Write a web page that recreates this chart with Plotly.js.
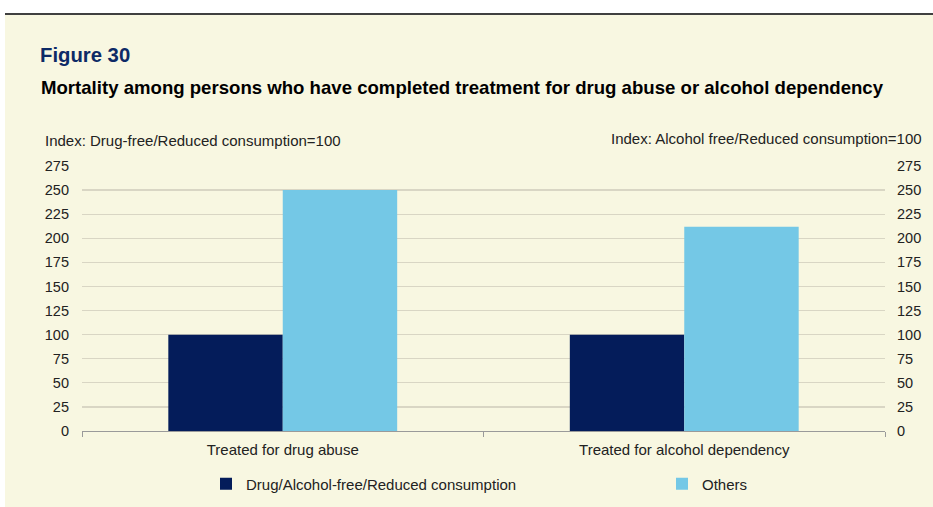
<!DOCTYPE html>
<html>
<head>
<meta charset="utf-8">
<script src="https://cdn.plot.ly/plotly-3.0.1.min.js"></script>
<style>
html,body{margin:0;padding:0;background:#ffffff;}
#chart{width:933px;height:507px;}
</style>
</head>
<body>
<div id="chart"></div>
<script>
const categories = ["Treated for drug abuse", "Treated for alcohol dependency"];
const seriesNames = ["Drug/Alcohol-free/Reduced consumption", "Others"];
const reducedValues = [100, 100];
const othersValues = [250, 212];
const yTicks = [0, 25, 50, 75, 100, 125, 150, 175, 200, 225, 250, 275];

const FONT = "Liberation Sans, Arial, sans-serif";
const BG = "#f8f7e1";
const TXT = "#222222";

const W = 933, H = 507;
const mL = 82, mR = 48, mT = 166, mB = 76;
const pw = W - mL - mR, ph = H - mT - mB;
const px = x => (x - mL) / pw;
const py = y => (H - mB - y) / ph;

const traces = [
  {type: "bar", name: seriesNames[0], x: categories, y: reducedValues,
   marker: {color: "#041c5a"}, hoverinfo: "y", legend: "legend"},
  {type: "bar", name: seriesNames[1], x: categories, y: othersValues,
   marker: {color: "#74c8e6"}, hoverinfo: "y", legend: "legend2"}
];

const legendCommon = {orientation: "h", xanchor: "left", yanchor: "middle",
  bgcolor: "rgba(0,0,0,0)", font: {family: FONT, size: 15, color: TXT}, itemwidth: 30};

const layout = {
  width: W, height: H,
  margin: {l: mL, r: mR, t: mT, b: mB, pad: 0, autoexpand: false},
  paper_bgcolor: "#ffffff",
  plot_bgcolor: "rgba(0,0,0,0)",
  font: {family: FONT, size: 15, color: TXT},
  barmode: "group",
  bargap: 0.43,
  bargroupgap: 0,
  showlegend: true,
  legend: Object.assign({}, legendCommon, {x: px(206), y: py(484)}),
  legend2: Object.assign({}, legendCommon, {x: px(662), y: py(484)}),
  xaxis: {type: "category", showline: true, linecolor: "#9a9a9a", linewidth: 1,
          ticks: "outside", tickson: "boundaries", ticklen: 5, tickcolor: "#9a9a9a",
          tickfont: {family: FONT, size: 15, color: TXT}, ticklabelstandoff: 5,
          showgrid: false, zeroline: false, fixedrange: true, automargin: false},
  yaxis: {range: [0, 275], tickvals: yTicks, showgrid: true, gridcolor: "#d9d6c4", gridwidth: 1.2,
          zeroline: false, showline: false, ticks: "", ticklabelstandoff: 12,
          tickfont: {family: FONT, size: 14.5, color: TXT}, fixedrange: true, automargin: false},
  yaxis2: {range: [0, 275], tickvals: yTicks, overlaying: "y", side: "right", showgrid: false,
           zeroline: false, showline: false, ticks: "", ticklabelstandoff: 11,
           tickfont: {family: FONT, size: 14.5, color: TXT}, fixedrange: true, automargin: false},
  shapes: [
    {type: "rect", xref: "paper", yref: "paper", x0: px(5), x1: px(933), y0: py(15), y1: py(507),
     fillcolor: BG, line: {width: 0}, layer: "below"},
    {type: "line", xref: "paper", yref: "paper", x0: px(5), x1: px(933), y0: py(14), y1: py(14),
     line: {color: "#000000", width: 1.5}}
  ],
  annotations: [
    {text: "<b>Figure 30</b>", xref: "paper", yref: "paper", x: px(38), y: py(55),
     xanchor: "left", yanchor: "middle", showarrow: false,
     font: {family: FONT, size: 20.3, color: "#0d2a66"}},
    {text: "<b>Mortality among persons who have completed treatment for drug abuse or alcohol dependency</b>",
     xref: "paper", yref: "paper", x: px(39), y: py(87), xanchor: "left", yanchor: "middle", showarrow: false,
     font: {family: FONT, size: 18.6, color: "#000000"}},
    {text: "Index: Drug-free/Reduced consumption=100", xref: "paper", yref: "paper",
     x: px(43), y: py(140), xanchor: "left", yanchor: "middle", showarrow: false,
     font: {family: FONT, size: 15, color: TXT}},
    {text: "Index: Alcohol free/Reduced consumption=100", xref: "paper", yref: "paper",
     x: px(924), y: py(138), xanchor: "right", yanchor: "middle", showarrow: false,
     font: {family: FONT, size: 15, color: TXT}}
  ]
};

// Hidden helper trace so the right axis is drawn on the same scale
traces.push({type: "scatter", x: [categories[0]], y: [0], yaxis: "y2", mode: "markers",
             marker: {opacity: 0}, showlegend: false, hoverinfo: "skip"});

Plotly.newPlot("chart", traces, layout, {displayModeBar: false, staticPlot: true});
</script>
</body>
</html>
